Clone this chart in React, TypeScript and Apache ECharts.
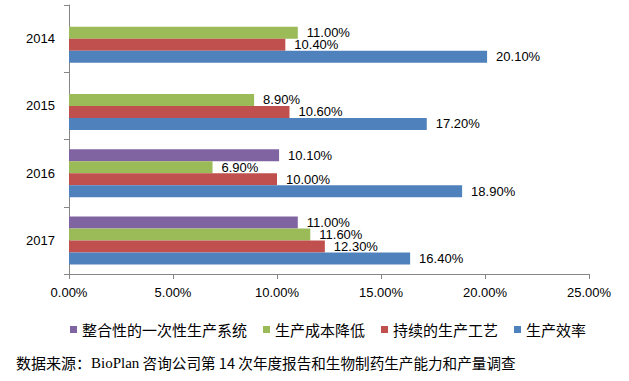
import React, { useEffect, useRef } from "react";
import * as echarts from "echarts";

const categories = ["2014", "2015", "2016", "2017"];
const seriesNames = ["整合性的一次性生产系统", "生产成本降低", "持续的生产工艺", "生产效率"];
const singleUse: (number | null)[] = [null, null, 10.1, 11.0];
const costReduction = [11.0, 8.9, 6.9, 11.6];
const continuousProcess = [10.4, 10.6, 10.0, 12.3];
const efficiency = [20.1, 17.2, 18.9, 16.4];
const xTicks = { min: 0, max: 25, interval: 5 };
const sourceLabel = "数据来源：";
const sourceOrg = "BioPlan";
const sourceRest = " 咨询公司第 14 次年度报告和生物制药生产能力和产量调查";

const colors = ["#8064A2", "#9BBB59", "#C0504D", "#4F81BD"];
const numFont = "'Liberation Sans', Arial, sans-serif";
const cjkFont = "'Noto Sans CJK SC', sans-serif";

export default function App() {
  const ref = useRef<HTMLDivElement>(null);
  useEffect(() => {
    if (!ref.current) return;
    const chart = echarts.init(ref.current, null, { renderer: "svg" });
    const values = [singleUse, costReduction, continuousProcess, efficiency];
    chart.setOption({
      animation: false,
      backgroundColor: "#ffffff",
      color: colors,
      grid: { left: 69, right: 40, top: 5, bottom: 107, containLabel: false },
      legend: {
        data: seriesNames,
        left: 65,
        top: 317,
        icon: "rect",
        itemWidth: 7,
        itemHeight: 7,
        itemGap: 16,
        textStyle: { fontSize: 15, color: "#000", fontFamily: cjkFont },
      },
      xAxis: {
        type: "value",
        min: xTicks.min,
        max: xTicks.max,
        interval: xTicks.interval,
        splitLine: { show: false },
        axisLine: { show: true, lineStyle: { color: "#868686", width: 1 } },
        axisTick: { show: true, length: 5, lineStyle: { color: "#868686" } },
        axisLabel: {
          formatter: (v: number) => v.toFixed(2) + "%",
          fontSize: 13,
          color: "#000",
          fontFamily: numFont,
          margin: 12,
        },
      },
      yAxis: {
        type: "category",
        data: categories,
        inverse: true,
        axisLine: { show: true, lineStyle: { color: "#868686", width: 1 } },
        axisTick: { show: true, length: 5, lineStyle: { color: "#868686" } },
        axisLabel: { fontSize: 13, color: "#000", fontFamily: numFont, margin: 14 },
      },
      series: seriesNames.map((name, i) => ({
        name,
        type: "bar",
        data: values[i],
        barWidth: 12,
        barGap: "0%",
        itemStyle: { color: colors[i] },
        label: {
          show: true,
          position: "right",
          distance: 9,
          fontSize: 13,
          color: "#000",
          fontFamily: numFont,
          formatter: (p: any) => (p.value == null ? "" : Number(p.value).toFixed(2) + "%"),
        },
      })),
      graphic: [
        {
          type: "text",
          left: 16,
          top: 355,
          style: {
            text: `{a|${sourceLabel}}{b|${sourceOrg}}{c|${sourceRest}}`,
            rich: {
              a: { fontSize: 15, fontFamily: cjkFont, fill: "#000" },
              b: { fontSize: 15, fontFamily: "'Liberation Serif', serif", fill: "#000" },
              c: { fontSize: 14.6, fontFamily: cjkFont, fill: "#000" },
            },
          },
        },
      ],
    });
    return () => chart.dispose();
  }, []);
  return (
    <div
      ref={ref}
      style={{ position: "absolute", left: 0, top: 0, width: 629, height: 381, background: "#fff" }}
    />
  );
}
